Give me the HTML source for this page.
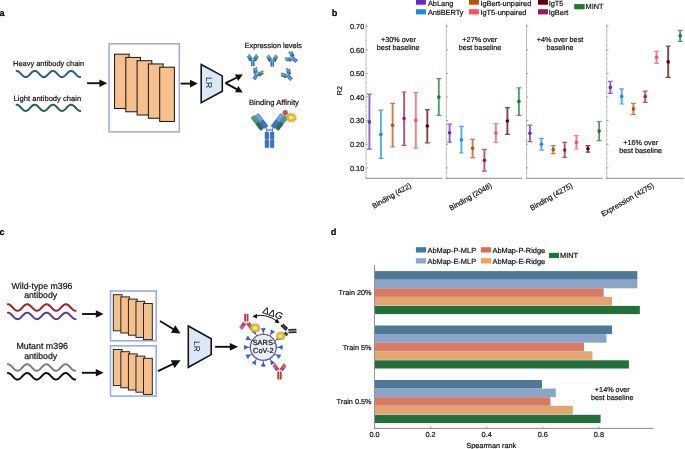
<!DOCTYPE html><html><head><meta charset="utf-8"><style>html,body{margin:0;padding:0;background:#fff;width:685px;height:449px;overflow:hidden}text{font-family:"Liberation Sans",sans-serif;text-rendering:geometricPrecision;stroke:#111;stroke-width:0.2px;paint-order:stroke}</style></head><body><svg width="685" height="449" viewBox="0 0 685 449" style="font-family:'Liberation Sans',sans-serif;display:block;will-change:transform">
<rect width="685" height="449" fill="#fff"/>
<text x="-0.50" y="16.40" font-size="9.2" text-anchor="start" fill="#000" font-weight="bold"  >a</text>
<text x="13.10" y="66.10" font-size="7.43" text-anchor="start" fill="#111" font-weight="normal"  >Heavy antibody chain</text>
<polyline points="16.60,70.90 16.92,70.92 17.24,70.97 17.55,71.07 17.87,71.20 18.19,71.36 18.51,71.55 18.83,71.77 19.14,72.02 19.46,72.30 19.78,72.59 20.10,72.90 20.42,73.23 20.73,73.56 21.05,73.90 21.37,74.24 21.69,74.58 22.01,74.91 22.32,75.23 22.64,75.54 22.96,75.82 23.28,76.09 23.60,76.33 23.91,76.54 24.23,76.72 24.55,76.86 24.87,76.98 25.19,77.05 25.50,77.09 25.82,77.10 26.14,77.06 26.46,76.99 26.78,76.88 27.09,76.74 27.41,76.56 27.73,76.36 28.05,76.12 28.37,75.86 28.68,75.58 29.00,75.28 29.32,74.96 29.64,74.63 29.96,74.29 30.27,73.95 30.59,73.61 30.91,73.28 31.23,72.95 31.55,72.64 31.86,72.34 32.18,72.06 32.50,71.81 32.82,71.58 33.14,71.38 33.45,71.22 33.77,71.08 34.09,70.99 34.41,70.92 34.73,70.90 35.04,70.91 35.36,70.96 35.68,71.05 36.00,71.17 36.32,71.33 36.63,71.52 36.95,71.74 37.27,71.99 37.59,72.26 37.91,72.55 38.22,72.86 38.54,73.18 38.86,73.52 39.18,73.85 39.50,74.19 39.81,74.53 40.13,74.86 40.45,75.19 40.77,75.49 41.09,75.78 41.40,76.05 41.72,76.29 42.04,76.51 42.36,76.69 42.68,76.85 42.99,76.96 43.31,77.05 43.63,77.09 43.95,77.10 44.27,77.07 44.58,77.00 44.90,76.90 45.22,76.76 45.54,76.59 45.86,76.39 46.17,76.16 46.49,75.90 46.81,75.62 47.13,75.32 47.45,75.00 47.76,74.68 48.08,74.34 48.40,74.00 48.72,73.66 49.04,73.32 49.35,73.00 49.67,72.68 49.99,72.38 50.31,72.10 50.63,71.84 50.94,71.61 51.26,71.41 51.58,71.24 51.90,71.10 52.22,71.00 52.53,70.93 52.85,70.90 53.17,70.91 53.49,70.95 53.81,71.04 54.12,71.15 54.44,71.31 54.76,71.49 55.08,71.71 55.40,71.95 55.71,72.22 56.03,72.51 56.35,72.81 56.67,73.14 56.99,73.47 57.30,73.81 57.62,74.15 57.94,74.48 58.26,74.82 58.58,75.14 58.89,75.45 59.21,75.74 59.53,76.01 59.85,76.26 60.17,76.48 60.48,76.67 60.80,76.83 61.12,76.95 61.44,77.04 61.76,77.09 62.07,77.10 62.39,77.08 62.71,77.01 63.03,76.92 63.35,76.78 63.66,76.62 63.98,76.42 64.30,76.19 64.62,75.94 64.94,75.66 65.25,75.36 65.57,75.05 65.89,74.72 66.21,74.39 66.53,74.05 66.84,73.71 67.16,73.37 67.48,73.04 67.80,72.72 68.12,72.42 68.43,72.14 68.75,71.88 69.07,71.64 69.39,71.44 69.71,71.26 70.02,71.12 70.34,71.01 70.66,70.94 70.98,70.90 71.30,70.91 71.61,70.95 71.93,71.02 72.25,71.14 72.57,71.28 72.89,71.46 73.20,71.67 73.52,71.91 73.84,72.18 74.16,72.46 74.48,72.77 74.79,73.09 75.11,73.42 75.43,73.76 75.75,74.10 76.07,74.44 76.38,74.77 76.70,75.10 77.02,75.41 77.34,75.70 77.66,75.98 77.97,76.23 78.29,76.45 78.61,76.64 78.93,76.80 79.25,76.93 79.56,77.03 79.88,77.08 80.20,77.10" fill="none" stroke="#2b5d92" stroke-width="2.0" stroke-linecap="round"/>
<text x="13.60" y="100.50" font-size="7.6" text-anchor="start" fill="#111" font-weight="normal"  >Light antibody chain</text>
<polyline points="16.60,104.70 16.92,104.72 17.24,104.77 17.55,104.87 17.87,105.00 18.19,105.16 18.51,105.35 18.83,105.57 19.14,105.82 19.46,106.10 19.78,106.39 20.10,106.70 20.42,107.03 20.73,107.36 21.05,107.70 21.37,108.04 21.69,108.38 22.01,108.71 22.32,109.03 22.64,109.34 22.96,109.62 23.28,109.89 23.60,110.13 23.91,110.34 24.23,110.52 24.55,110.66 24.87,110.78 25.19,110.85 25.50,110.89 25.82,110.90 26.14,110.86 26.46,110.79 26.78,110.68 27.09,110.54 27.41,110.36 27.73,110.16 28.05,109.92 28.37,109.66 28.68,109.38 29.00,109.08 29.32,108.76 29.64,108.43 29.96,108.09 30.27,107.75 30.59,107.41 30.91,107.08 31.23,106.75 31.55,106.44 31.86,106.14 32.18,105.86 32.50,105.61 32.82,105.38 33.14,105.18 33.45,105.02 33.77,104.88 34.09,104.79 34.41,104.72 34.73,104.70 35.04,104.71 35.36,104.76 35.68,104.85 36.00,104.97 36.32,105.13 36.63,105.32 36.95,105.54 37.27,105.79 37.59,106.06 37.91,106.35 38.22,106.66 38.54,106.98 38.86,107.32 39.18,107.65 39.50,107.99 39.81,108.33 40.13,108.66 40.45,108.99 40.77,109.29 41.09,109.58 41.40,109.85 41.72,110.09 42.04,110.31 42.36,110.49 42.68,110.65 42.99,110.76 43.31,110.85 43.63,110.89 43.95,110.90 44.27,110.87 44.58,110.80 44.90,110.70 45.22,110.56 45.54,110.39 45.86,110.19 46.17,109.96 46.49,109.70 46.81,109.42 47.13,109.12 47.45,108.80 47.76,108.48 48.08,108.14 48.40,107.80 48.72,107.46 49.04,107.12 49.35,106.80 49.67,106.48 49.99,106.18 50.31,105.90 50.63,105.64 50.94,105.41 51.26,105.21 51.58,105.04 51.90,104.90 52.22,104.80 52.53,104.73 52.85,104.70 53.17,104.71 53.49,104.75 53.81,104.84 54.12,104.95 54.44,105.11 54.76,105.29 55.08,105.51 55.40,105.75 55.71,106.02 56.03,106.31 56.35,106.61 56.67,106.94 56.99,107.27 57.30,107.61 57.62,107.95 57.94,108.28 58.26,108.62 58.58,108.94 58.89,109.25 59.21,109.54 59.53,109.81 59.85,110.06 60.17,110.28 60.48,110.47 60.80,110.63 61.12,110.75 61.44,110.84 61.76,110.89 62.07,110.90 62.39,110.88 62.71,110.81 63.03,110.72 63.35,110.58 63.66,110.42 63.98,110.22 64.30,109.99 64.62,109.74 64.94,109.46 65.25,109.16 65.57,108.85 65.89,108.52 66.21,108.19 66.53,107.85 66.84,107.51 67.16,107.17 67.48,106.84 67.80,106.52 68.12,106.22 68.43,105.94 68.75,105.68 69.07,105.44 69.39,105.24 69.71,105.06 70.02,104.92 70.34,104.81 70.66,104.74 70.98,104.70 71.30,104.71 71.61,104.75 71.93,104.82 72.25,104.94 72.57,105.08 72.89,105.26 73.20,105.47 73.52,105.71 73.84,105.98 74.16,106.26 74.48,106.57 74.79,106.89 75.11,107.22 75.43,107.56 75.75,107.90 76.07,108.24 76.38,108.57 76.70,108.90 77.02,109.21 77.34,109.50 77.66,109.78 77.97,110.03 78.29,110.25 78.61,110.44 78.93,110.60 79.25,110.73 79.56,110.83 79.88,110.88 80.20,110.90" fill="none" stroke="#1f5f55" stroke-width="2.0" stroke-linecap="round"/>
<line x1="87.10" y1="83.20" x2="99.90" y2="83.20" stroke="#111" stroke-width="1.9"/>
<polygon points="107.20,83.20 99.40,87.00 99.40,79.40" fill="#111"/>
<rect x="109.1" y="43.8" width="70.2" height="88.1" fill="none" stroke="#98aee0" stroke-width="1.5"/>
<rect x="114.50" y="54.20" width="14.7" height="54.3" fill="#f5bf8e" stroke="#1e1e1e" stroke-width="1.05"/>
<rect x="125.80" y="57.45" width="14.7" height="54.3" fill="#f5bf8e" stroke="#1e1e1e" stroke-width="1.05"/>
<rect x="137.10" y="60.70" width="14.7" height="54.3" fill="#f5bf8e" stroke="#1e1e1e" stroke-width="1.05"/>
<rect x="148.40" y="63.95" width="14.7" height="54.3" fill="#f5bf8e" stroke="#1e1e1e" stroke-width="1.05"/>
<rect x="159.70" y="67.20" width="14.7" height="54.3" fill="#f5bf8e" stroke="#1e1e1e" stroke-width="1.05"/>
<line x1="180.60" y1="83.60" x2="190.50" y2="83.60" stroke="#111" stroke-width="1.9"/>
<polygon points="197.80,83.60 190.00,87.40 190.00,79.80" fill="#111"/>
<polygon points="201.2,64.5 222.3,75.9 222.3,91.3 201.2,102.6" fill="#dbe8f8" stroke="#151515" stroke-width="1.6" stroke-linejoin="miter"/>
<text x="0" y="0" font-size="8.6" text-anchor="middle" fill="#111" text-rendering="geometricPrecision" style="stroke-width:0" transform="translate(209.0,82.6) rotate(90) translate(0,3.0)">LR</text>
<line x1="225.50" y1="83.20" x2="236.98" y2="77.49" stroke="#111" stroke-width="1.9"/>
<polygon points="242.80,74.60 238.13,80.94 234.93,74.49" fill="#111"/>
<line x1="225.50" y1="83.20" x2="237.06" y2="89.35" stroke="#111" stroke-width="1.9"/>
<polygon points="242.80,92.40 234.93,92.29 238.31,85.93" fill="#111"/>
<text x="244.60" y="48.30" font-size="7.36" text-anchor="start" fill="#111" font-weight="normal"  >Expression levels</text>
<text x="249.00" y="104.60" font-size="7.64" text-anchor="start" fill="#111" font-weight="normal"  >Binding Affinity</text>
<g transform="translate(252.80,59.80) rotate(0) scale(1.0)"><rect x="-1.85" y="0" width="1.75" height="6.4" fill="#3b78d4"/><rect x="0.1" y="0" width="1.75" height="6.4" fill="#3b78d4"/><g transform="translate(-0.8,-0.3) rotate(-31)"><rect x="-1.0" y="-6.2" width="2.0" height="3.2" fill="#5a94e4"/><rect x="-1.0" y="-3.1" width="2.0" height="3.1" fill="#3b78d4"/><rect x="-3.0" y="-5.2" width="2.0" height="2.8" fill="#4a8a72"/><rect x="-3.0" y="-2.5" width="2.0" height="3.0" fill="#2c6856"/></g><g transform="translate(0.8,-0.3) rotate(31)"><rect x="-1.0" y="-6.2" width="2.0" height="3.2" fill="#5a94e4"/><rect x="-1.0" y="-3.1" width="2.0" height="3.1" fill="#3b78d4"/><rect x="1.0" y="-5.2" width="2.0" height="2.8" fill="#4a8a72"/><rect x="1.0" y="-2.5" width="2.0" height="3.0" fill="#2c6856"/></g></g>
<g transform="translate(272.20,60.30) rotate(0) scale(1.0)"><rect x="-1.85" y="0" width="1.75" height="6.4" fill="#3b78d4"/><rect x="0.1" y="0" width="1.75" height="6.4" fill="#3b78d4"/><g transform="translate(-0.8,-0.3) rotate(-31)"><rect x="-1.0" y="-6.2" width="2.0" height="3.2" fill="#5a94e4"/><rect x="-1.0" y="-3.1" width="2.0" height="3.1" fill="#3b78d4"/><rect x="-3.0" y="-5.2" width="2.0" height="2.8" fill="#4a8a72"/><rect x="-3.0" y="-2.5" width="2.0" height="3.0" fill="#2c6856"/></g><g transform="translate(0.8,-0.3) rotate(31)"><rect x="-1.0" y="-6.2" width="2.0" height="3.2" fill="#5a94e4"/><rect x="-1.0" y="-3.1" width="2.0" height="3.1" fill="#3b78d4"/><rect x="1.0" y="-5.2" width="2.0" height="2.8" fill="#4a8a72"/><rect x="1.0" y="-2.5" width="2.0" height="3.0" fill="#2c6856"/></g></g>
<g transform="translate(291.60,57.90) rotate(-57) scale(1.0)"><rect x="-1.85" y="0" width="1.75" height="6.4" fill="#3b78d4"/><rect x="0.1" y="0" width="1.75" height="6.4" fill="#3b78d4"/><g transform="translate(-0.8,-0.3) rotate(-31)"><rect x="-1.0" y="-6.2" width="2.0" height="3.2" fill="#5a94e4"/><rect x="-1.0" y="-3.1" width="2.0" height="3.1" fill="#3b78d4"/><rect x="-3.0" y="-5.2" width="2.0" height="2.8" fill="#4a8a72"/><rect x="-3.0" y="-2.5" width="2.0" height="3.0" fill="#2c6856"/></g><g transform="translate(0.8,-0.3) rotate(31)"><rect x="-1.0" y="-6.2" width="2.0" height="3.2" fill="#5a94e4"/><rect x="-1.0" y="-3.1" width="2.0" height="3.1" fill="#3b78d4"/><rect x="1.0" y="-5.2" width="2.0" height="2.8" fill="#4a8a72"/><rect x="1.0" y="-2.5" width="2.0" height="3.0" fill="#2c6856"/></g></g>
<g transform="translate(257.10,73.80) rotate(29) scale(1.0)"><rect x="-1.85" y="0" width="1.75" height="6.4" fill="#3b78d4"/><rect x="0.1" y="0" width="1.75" height="6.4" fill="#3b78d4"/><g transform="translate(-0.8,-0.3) rotate(-31)"><rect x="-1.0" y="-6.2" width="2.0" height="3.2" fill="#5a94e4"/><rect x="-1.0" y="-3.1" width="2.0" height="3.1" fill="#3b78d4"/><rect x="-3.0" y="-5.2" width="2.0" height="2.8" fill="#4a8a72"/><rect x="-3.0" y="-2.5" width="2.0" height="3.0" fill="#2c6856"/></g><g transform="translate(0.8,-0.3) rotate(31)"><rect x="-1.0" y="-6.2" width="2.0" height="3.2" fill="#5a94e4"/><rect x="-1.0" y="-3.1" width="2.0" height="3.1" fill="#3b78d4"/><rect x="1.0" y="-5.2" width="2.0" height="2.8" fill="#4a8a72"/><rect x="1.0" y="-2.5" width="2.0" height="3.0" fill="#2c6856"/></g></g>
<g transform="translate(287.50,75.00) rotate(-40) scale(1.0)"><rect x="-1.85" y="0" width="1.75" height="6.4" fill="#3b78d4"/><rect x="0.1" y="0" width="1.75" height="6.4" fill="#3b78d4"/><g transform="translate(-0.8,-0.3) rotate(-31)"><rect x="-1.0" y="-6.2" width="2.0" height="3.2" fill="#5a94e4"/><rect x="-1.0" y="-3.1" width="2.0" height="3.1" fill="#3b78d4"/><rect x="-3.0" y="-5.2" width="2.0" height="2.8" fill="#4a8a72"/><rect x="-3.0" y="-2.5" width="2.0" height="3.0" fill="#2c6856"/></g><g transform="translate(0.8,-0.3) rotate(31)"><rect x="-1.0" y="-6.2" width="2.0" height="3.2" fill="#5a94e4"/><rect x="-1.0" y="-3.1" width="2.0" height="3.1" fill="#3b78d4"/><rect x="1.0" y="-5.2" width="2.0" height="2.8" fill="#4a8a72"/><rect x="1.0" y="-2.5" width="2.0" height="3.0" fill="#2c6856"/></g></g>
<g><rect x="265" y="132" width="3.8" height="7.6" rx="0.8" fill="#3a74c8" stroke="#2a5aa8" stroke-width="0.4"/><rect x="265" y="140" width="3.8" height="7.8" rx="0.8" fill="#3a74c8" stroke="#2a5aa8" stroke-width="0.4"/><rect x="270.2" y="132" width="3.8" height="7.6" rx="0.8" fill="#3a74c8" stroke="#2a5aa8" stroke-width="0.4"/><rect x="270.2" y="140" width="3.8" height="7.8" rx="0.8" fill="#3a74c8" stroke="#2a5aa8" stroke-width="0.4"/><path d="M266.5,132 L266.5,128 M272.5,132 L272.5,128 M266.5,129.3 L272.5,129.3 M266.5,130.6 L272.5,130.6" stroke="#2a5aa8" stroke-width="0.6" fill="none"/><g transform="translate(266.8,127.5) rotate(-37)"><rect x="-2.4" y="-16.5" width="4.3" height="8.2" rx="0.8" fill="#6aa3ea" stroke="#3a70c0" stroke-width="0.4"/><rect x="-2.4" y="-8.3" width="4.3" height="8" rx="0.8" fill="#3a74c8" stroke="#2a5aa8" stroke-width="0.4"/><rect x="-6.9" y="-17.3" width="4.3" height="8.0" rx="0.8" fill="#4f9a7e" stroke="#2e6a55" stroke-width="0.4"/><rect x="-6.9" y="-9.3" width="4.3" height="8.0" rx="0.8" fill="#2f6a55" stroke="#24503f" stroke-width="0.4"/></g><g transform="translate(272.2,127.5) rotate(37)"><rect x="-1.9" y="-16.5" width="4.3" height="8.2" rx="0.8" fill="#6aa3ea" stroke="#3a70c0" stroke-width="0.4"/><rect x="-1.9" y="-8.3" width="4.3" height="8" rx="0.8" fill="#3a74c8" stroke="#2a5aa8" stroke-width="0.4"/><rect x="2.6" y="-17.3" width="4.3" height="8.0" rx="0.8" fill="#4f9a7e" stroke="#2e6a55" stroke-width="0.4"/><rect x="2.6" y="-9.3" width="4.3" height="8.0" rx="0.8" fill="#2f6a55" stroke="#24503f" stroke-width="0.4"/></g></g>
<polygon points="296.75,117.60 295.13,118.45 296.53,120.06 294.17,119.92 294.39,121.66 292.64,120.95 291.84,122.22 290.72,121.10 289.17,122.31 288.79,120.67 287.31,120.63 287.80,119.17 286.16,118.69 286.95,117.60 285.57,116.38 287.98,116.11 286.65,114.05 288.72,114.43 289.16,112.87 290.71,114.02 291.83,113.01 292.48,114.63 294.40,113.52 293.93,115.47 295.88,115.44 294.88,116.80" fill="#dfbd38" stroke="#c9a030" stroke-width="0.6" stroke-linejoin="round"/>
<ellipse cx="291.20" cy="117.60" rx="2.48" ry="1.68" fill="#f7f07a"/>
<circle cx="285.2" cy="112.6" r="2.7" fill="#d0504e"/>
<text x="331.80" y="16.40" font-size="9.2" text-anchor="start" fill="#000" font-weight="bold"  >b</text>
<rect x="416" y="-0.3" width="9.9" height="5.0" fill="#6a28c8"/>
<text x="427.90" y="5.60" font-size="7.4" text-anchor="start" fill="#111" font-weight="normal"  >AbLang</text>
<rect x="416" y="9.2" width="9.9" height="5.2" fill="#1a8ce6"/>
<text x="427.90" y="14.50" font-size="7.4" text-anchor="start" fill="#111" font-weight="normal"  >AntiBERTy</text>
<rect x="469" y="-0.3" width="9.9" height="5.0" fill="#b85208"/>
<text x="480.40" y="5.60" font-size="7.4" text-anchor="start" fill="#111" font-weight="normal"  >IgBert-unpaired</text>
<rect x="469" y="9.2" width="9.9" height="5.2" fill="#ff4d5a"/>
<text x="480.40" y="14.50" font-size="7.4" text-anchor="start" fill="#111" font-weight="normal"  >IgT5-unpaired</text>
<rect x="538" y="-0.3" width="9.9" height="5.0" fill="#5c0008"/>
<text x="548.70" y="5.60" font-size="7.4" text-anchor="start" fill="#111" font-weight="normal"  >IgT5</text>
<rect x="538" y="9.2" width="9.9" height="5.2" fill="#a0175a"/>
<text x="548.70" y="14.50" font-size="7.4" text-anchor="start" fill="#111" font-weight="normal"  >IgBert</text>
<rect x="574.2" y="4.1" width="10.5" height="5.2" fill="#1a7a32"/>
<text x="585.50" y="9.40" font-size="7.4" text-anchor="start" fill="#111" font-weight="normal"  >MINT</text>
<text x="364.20" y="170.60" font-size="7.3" text-anchor="end" fill="#111" font-weight="normal"  >0.10</text>
<text x="364.20" y="146.98" font-size="7.3" text-anchor="end" fill="#111" font-weight="normal"  >0.20</text>
<text x="364.20" y="123.36" font-size="7.3" text-anchor="end" fill="#111" font-weight="normal"  >0.30</text>
<text x="364.20" y="99.74" font-size="7.3" text-anchor="end" fill="#111" font-weight="normal"  >0.40</text>
<text x="364.20" y="76.12" font-size="7.3" text-anchor="end" fill="#111" font-weight="normal"  >0.50</text>
<text x="364.20" y="52.50" font-size="7.3" text-anchor="end" fill="#111" font-weight="normal"  >0.60</text>
<text x="364.20" y="28.88" font-size="7.3" text-anchor="end" fill="#111" font-weight="normal"  >0.70</text>
<text x="0" y="0" font-size="7.1" text-anchor="middle" fill="#111" transform="translate(342.0,90.6) rotate(-90)">R2</text>
<line x1="366.0" y1="23.5" x2="366.0" y2="178.3" stroke="#b0b0b0" stroke-width="0.75"/>
<line x1="365.55" y1="178.3" x2="442.4" y2="178.3" stroke="#8a8a8a" stroke-width="1.0"/>
<line x1="365.7" y1="177.35" x2="366.90" y2="177.35" stroke="#aaa" stroke-width="0.6"/>
<line x1="365.7" y1="172.62" x2="366.90" y2="172.62" stroke="#aaa" stroke-width="0.6"/>
<line x1="365.7" y1="167.90" x2="367.80" y2="167.90" stroke="#888" stroke-width="0.8"/>
<line x1="365.7" y1="163.18" x2="366.90" y2="163.18" stroke="#aaa" stroke-width="0.6"/>
<line x1="365.7" y1="158.45" x2="366.90" y2="158.45" stroke="#aaa" stroke-width="0.6"/>
<line x1="365.7" y1="153.73" x2="366.90" y2="153.73" stroke="#aaa" stroke-width="0.6"/>
<line x1="365.7" y1="149.00" x2="366.90" y2="149.00" stroke="#aaa" stroke-width="0.6"/>
<line x1="365.7" y1="144.28" x2="367.80" y2="144.28" stroke="#888" stroke-width="0.8"/>
<line x1="365.7" y1="139.56" x2="366.90" y2="139.56" stroke="#aaa" stroke-width="0.6"/>
<line x1="365.7" y1="134.83" x2="366.90" y2="134.83" stroke="#aaa" stroke-width="0.6"/>
<line x1="365.7" y1="130.11" x2="366.90" y2="130.11" stroke="#aaa" stroke-width="0.6"/>
<line x1="365.7" y1="125.38" x2="366.90" y2="125.38" stroke="#aaa" stroke-width="0.6"/>
<line x1="365.7" y1="120.66" x2="367.80" y2="120.66" stroke="#888" stroke-width="0.8"/>
<line x1="365.7" y1="115.94" x2="366.90" y2="115.94" stroke="#aaa" stroke-width="0.6"/>
<line x1="365.7" y1="111.21" x2="366.90" y2="111.21" stroke="#aaa" stroke-width="0.6"/>
<line x1="365.7" y1="106.49" x2="366.90" y2="106.49" stroke="#aaa" stroke-width="0.6"/>
<line x1="365.7" y1="101.76" x2="366.90" y2="101.76" stroke="#aaa" stroke-width="0.6"/>
<line x1="365.7" y1="97.04" x2="367.80" y2="97.04" stroke="#888" stroke-width="0.8"/>
<line x1="365.7" y1="92.32" x2="366.90" y2="92.32" stroke="#aaa" stroke-width="0.6"/>
<line x1="365.7" y1="87.59" x2="366.90" y2="87.59" stroke="#aaa" stroke-width="0.6"/>
<line x1="365.7" y1="82.87" x2="366.90" y2="82.87" stroke="#aaa" stroke-width="0.6"/>
<line x1="365.7" y1="78.14" x2="366.90" y2="78.14" stroke="#aaa" stroke-width="0.6"/>
<line x1="365.7" y1="73.42" x2="367.80" y2="73.42" stroke="#888" stroke-width="0.8"/>
<line x1="365.7" y1="68.70" x2="366.90" y2="68.70" stroke="#aaa" stroke-width="0.6"/>
<line x1="365.7" y1="63.97" x2="366.90" y2="63.97" stroke="#aaa" stroke-width="0.6"/>
<line x1="365.7" y1="59.25" x2="366.90" y2="59.25" stroke="#aaa" stroke-width="0.6"/>
<line x1="365.7" y1="54.52" x2="366.90" y2="54.52" stroke="#aaa" stroke-width="0.6"/>
<line x1="365.7" y1="49.80" x2="367.80" y2="49.80" stroke="#888" stroke-width="0.8"/>
<line x1="365.7" y1="45.08" x2="366.90" y2="45.08" stroke="#aaa" stroke-width="0.6"/>
<line x1="365.7" y1="40.35" x2="366.90" y2="40.35" stroke="#aaa" stroke-width="0.6"/>
<line x1="365.7" y1="35.63" x2="366.90" y2="35.63" stroke="#aaa" stroke-width="0.6"/>
<line x1="365.7" y1="30.90" x2="366.90" y2="30.90" stroke="#aaa" stroke-width="0.6"/>
<line x1="365.7" y1="26.18" x2="367.80" y2="26.18" stroke="#888" stroke-width="0.8"/>
<line x1="446.3" y1="23.5" x2="446.3" y2="178.3" stroke="#b0b0b0" stroke-width="0.75"/>
<line x1="445.85" y1="178.3" x2="522.4" y2="178.3" stroke="#8a8a8a" stroke-width="1.0"/>
<line x1="446.0" y1="177.35" x2="447.20" y2="177.35" stroke="#aaa" stroke-width="0.6"/>
<line x1="446.0" y1="172.62" x2="447.20" y2="172.62" stroke="#aaa" stroke-width="0.6"/>
<line x1="446.0" y1="167.90" x2="448.10" y2="167.90" stroke="#888" stroke-width="0.8"/>
<line x1="446.0" y1="163.18" x2="447.20" y2="163.18" stroke="#aaa" stroke-width="0.6"/>
<line x1="446.0" y1="158.45" x2="447.20" y2="158.45" stroke="#aaa" stroke-width="0.6"/>
<line x1="446.0" y1="153.73" x2="447.20" y2="153.73" stroke="#aaa" stroke-width="0.6"/>
<line x1="446.0" y1="149.00" x2="447.20" y2="149.00" stroke="#aaa" stroke-width="0.6"/>
<line x1="446.0" y1="144.28" x2="448.10" y2="144.28" stroke="#888" stroke-width="0.8"/>
<line x1="446.0" y1="139.56" x2="447.20" y2="139.56" stroke="#aaa" stroke-width="0.6"/>
<line x1="446.0" y1="134.83" x2="447.20" y2="134.83" stroke="#aaa" stroke-width="0.6"/>
<line x1="446.0" y1="130.11" x2="447.20" y2="130.11" stroke="#aaa" stroke-width="0.6"/>
<line x1="446.0" y1="125.38" x2="447.20" y2="125.38" stroke="#aaa" stroke-width="0.6"/>
<line x1="446.0" y1="120.66" x2="448.10" y2="120.66" stroke="#888" stroke-width="0.8"/>
<line x1="446.0" y1="115.94" x2="447.20" y2="115.94" stroke="#aaa" stroke-width="0.6"/>
<line x1="446.0" y1="111.21" x2="447.20" y2="111.21" stroke="#aaa" stroke-width="0.6"/>
<line x1="446.0" y1="106.49" x2="447.20" y2="106.49" stroke="#aaa" stroke-width="0.6"/>
<line x1="446.0" y1="101.76" x2="447.20" y2="101.76" stroke="#aaa" stroke-width="0.6"/>
<line x1="446.0" y1="97.04" x2="448.10" y2="97.04" stroke="#888" stroke-width="0.8"/>
<line x1="446.0" y1="92.32" x2="447.20" y2="92.32" stroke="#aaa" stroke-width="0.6"/>
<line x1="446.0" y1="87.59" x2="447.20" y2="87.59" stroke="#aaa" stroke-width="0.6"/>
<line x1="446.0" y1="82.87" x2="447.20" y2="82.87" stroke="#aaa" stroke-width="0.6"/>
<line x1="446.0" y1="78.14" x2="447.20" y2="78.14" stroke="#aaa" stroke-width="0.6"/>
<line x1="446.0" y1="73.42" x2="448.10" y2="73.42" stroke="#888" stroke-width="0.8"/>
<line x1="446.0" y1="68.70" x2="447.20" y2="68.70" stroke="#aaa" stroke-width="0.6"/>
<line x1="446.0" y1="63.97" x2="447.20" y2="63.97" stroke="#aaa" stroke-width="0.6"/>
<line x1="446.0" y1="59.25" x2="447.20" y2="59.25" stroke="#aaa" stroke-width="0.6"/>
<line x1="446.0" y1="54.52" x2="447.20" y2="54.52" stroke="#aaa" stroke-width="0.6"/>
<line x1="446.0" y1="49.80" x2="448.10" y2="49.80" stroke="#888" stroke-width="0.8"/>
<line x1="446.0" y1="45.08" x2="447.20" y2="45.08" stroke="#aaa" stroke-width="0.6"/>
<line x1="446.0" y1="40.35" x2="447.20" y2="40.35" stroke="#aaa" stroke-width="0.6"/>
<line x1="446.0" y1="35.63" x2="447.20" y2="35.63" stroke="#aaa" stroke-width="0.6"/>
<line x1="446.0" y1="30.90" x2="447.20" y2="30.90" stroke="#aaa" stroke-width="0.6"/>
<line x1="446.0" y1="26.18" x2="448.10" y2="26.18" stroke="#888" stroke-width="0.8"/>
<line x1="526.5" y1="23.5" x2="526.5" y2="178.3" stroke="#b0b0b0" stroke-width="0.75"/>
<line x1="526.05" y1="178.3" x2="602.7" y2="178.3" stroke="#8a8a8a" stroke-width="1.0"/>
<line x1="526.2" y1="177.35" x2="527.40" y2="177.35" stroke="#aaa" stroke-width="0.6"/>
<line x1="526.2" y1="172.62" x2="527.40" y2="172.62" stroke="#aaa" stroke-width="0.6"/>
<line x1="526.2" y1="167.90" x2="528.30" y2="167.90" stroke="#888" stroke-width="0.8"/>
<line x1="526.2" y1="163.18" x2="527.40" y2="163.18" stroke="#aaa" stroke-width="0.6"/>
<line x1="526.2" y1="158.45" x2="527.40" y2="158.45" stroke="#aaa" stroke-width="0.6"/>
<line x1="526.2" y1="153.73" x2="527.40" y2="153.73" stroke="#aaa" stroke-width="0.6"/>
<line x1="526.2" y1="149.00" x2="527.40" y2="149.00" stroke="#aaa" stroke-width="0.6"/>
<line x1="526.2" y1="144.28" x2="528.30" y2="144.28" stroke="#888" stroke-width="0.8"/>
<line x1="526.2" y1="139.56" x2="527.40" y2="139.56" stroke="#aaa" stroke-width="0.6"/>
<line x1="526.2" y1="134.83" x2="527.40" y2="134.83" stroke="#aaa" stroke-width="0.6"/>
<line x1="526.2" y1="130.11" x2="527.40" y2="130.11" stroke="#aaa" stroke-width="0.6"/>
<line x1="526.2" y1="125.38" x2="527.40" y2="125.38" stroke="#aaa" stroke-width="0.6"/>
<line x1="526.2" y1="120.66" x2="528.30" y2="120.66" stroke="#888" stroke-width="0.8"/>
<line x1="526.2" y1="115.94" x2="527.40" y2="115.94" stroke="#aaa" stroke-width="0.6"/>
<line x1="526.2" y1="111.21" x2="527.40" y2="111.21" stroke="#aaa" stroke-width="0.6"/>
<line x1="526.2" y1="106.49" x2="527.40" y2="106.49" stroke="#aaa" stroke-width="0.6"/>
<line x1="526.2" y1="101.76" x2="527.40" y2="101.76" stroke="#aaa" stroke-width="0.6"/>
<line x1="526.2" y1="97.04" x2="528.30" y2="97.04" stroke="#888" stroke-width="0.8"/>
<line x1="526.2" y1="92.32" x2="527.40" y2="92.32" stroke="#aaa" stroke-width="0.6"/>
<line x1="526.2" y1="87.59" x2="527.40" y2="87.59" stroke="#aaa" stroke-width="0.6"/>
<line x1="526.2" y1="82.87" x2="527.40" y2="82.87" stroke="#aaa" stroke-width="0.6"/>
<line x1="526.2" y1="78.14" x2="527.40" y2="78.14" stroke="#aaa" stroke-width="0.6"/>
<line x1="526.2" y1="73.42" x2="528.30" y2="73.42" stroke="#888" stroke-width="0.8"/>
<line x1="526.2" y1="68.70" x2="527.40" y2="68.70" stroke="#aaa" stroke-width="0.6"/>
<line x1="526.2" y1="63.97" x2="527.40" y2="63.97" stroke="#aaa" stroke-width="0.6"/>
<line x1="526.2" y1="59.25" x2="527.40" y2="59.25" stroke="#aaa" stroke-width="0.6"/>
<line x1="526.2" y1="54.52" x2="527.40" y2="54.52" stroke="#aaa" stroke-width="0.6"/>
<line x1="526.2" y1="49.80" x2="528.30" y2="49.80" stroke="#888" stroke-width="0.8"/>
<line x1="526.2" y1="45.08" x2="527.40" y2="45.08" stroke="#aaa" stroke-width="0.6"/>
<line x1="526.2" y1="40.35" x2="527.40" y2="40.35" stroke="#aaa" stroke-width="0.6"/>
<line x1="526.2" y1="35.63" x2="527.40" y2="35.63" stroke="#aaa" stroke-width="0.6"/>
<line x1="526.2" y1="30.90" x2="527.40" y2="30.90" stroke="#aaa" stroke-width="0.6"/>
<line x1="526.2" y1="26.18" x2="528.30" y2="26.18" stroke="#888" stroke-width="0.8"/>
<line x1="606.7" y1="23.5" x2="606.7" y2="178.3" stroke="#b0b0b0" stroke-width="0.75"/>
<line x1="606.25" y1="178.3" x2="683.7" y2="178.3" stroke="#8a8a8a" stroke-width="1.0"/>
<line x1="606.4000000000001" y1="177.35" x2="607.60" y2="177.35" stroke="#aaa" stroke-width="0.6"/>
<line x1="606.4000000000001" y1="172.62" x2="607.60" y2="172.62" stroke="#aaa" stroke-width="0.6"/>
<line x1="606.4000000000001" y1="167.90" x2="608.50" y2="167.90" stroke="#888" stroke-width="0.8"/>
<line x1="606.4000000000001" y1="163.18" x2="607.60" y2="163.18" stroke="#aaa" stroke-width="0.6"/>
<line x1="606.4000000000001" y1="158.45" x2="607.60" y2="158.45" stroke="#aaa" stroke-width="0.6"/>
<line x1="606.4000000000001" y1="153.73" x2="607.60" y2="153.73" stroke="#aaa" stroke-width="0.6"/>
<line x1="606.4000000000001" y1="149.00" x2="607.60" y2="149.00" stroke="#aaa" stroke-width="0.6"/>
<line x1="606.4000000000001" y1="144.28" x2="608.50" y2="144.28" stroke="#888" stroke-width="0.8"/>
<line x1="606.4000000000001" y1="139.56" x2="607.60" y2="139.56" stroke="#aaa" stroke-width="0.6"/>
<line x1="606.4000000000001" y1="134.83" x2="607.60" y2="134.83" stroke="#aaa" stroke-width="0.6"/>
<line x1="606.4000000000001" y1="130.11" x2="607.60" y2="130.11" stroke="#aaa" stroke-width="0.6"/>
<line x1="606.4000000000001" y1="125.38" x2="607.60" y2="125.38" stroke="#aaa" stroke-width="0.6"/>
<line x1="606.4000000000001" y1="120.66" x2="608.50" y2="120.66" stroke="#888" stroke-width="0.8"/>
<line x1="606.4000000000001" y1="115.94" x2="607.60" y2="115.94" stroke="#aaa" stroke-width="0.6"/>
<line x1="606.4000000000001" y1="111.21" x2="607.60" y2="111.21" stroke="#aaa" stroke-width="0.6"/>
<line x1="606.4000000000001" y1="106.49" x2="607.60" y2="106.49" stroke="#aaa" stroke-width="0.6"/>
<line x1="606.4000000000001" y1="101.76" x2="607.60" y2="101.76" stroke="#aaa" stroke-width="0.6"/>
<line x1="606.4000000000001" y1="97.04" x2="608.50" y2="97.04" stroke="#888" stroke-width="0.8"/>
<line x1="606.4000000000001" y1="92.32" x2="607.60" y2="92.32" stroke="#aaa" stroke-width="0.6"/>
<line x1="606.4000000000001" y1="87.59" x2="607.60" y2="87.59" stroke="#aaa" stroke-width="0.6"/>
<line x1="606.4000000000001" y1="82.87" x2="607.60" y2="82.87" stroke="#aaa" stroke-width="0.6"/>
<line x1="606.4000000000001" y1="78.14" x2="607.60" y2="78.14" stroke="#aaa" stroke-width="0.6"/>
<line x1="606.4000000000001" y1="73.42" x2="608.50" y2="73.42" stroke="#888" stroke-width="0.8"/>
<line x1="606.4000000000001" y1="68.70" x2="607.60" y2="68.70" stroke="#aaa" stroke-width="0.6"/>
<line x1="606.4000000000001" y1="63.97" x2="607.60" y2="63.97" stroke="#aaa" stroke-width="0.6"/>
<line x1="606.4000000000001" y1="59.25" x2="607.60" y2="59.25" stroke="#aaa" stroke-width="0.6"/>
<line x1="606.4000000000001" y1="54.52" x2="607.60" y2="54.52" stroke="#aaa" stroke-width="0.6"/>
<line x1="606.4000000000001" y1="49.80" x2="608.50" y2="49.80" stroke="#888" stroke-width="0.8"/>
<line x1="606.4000000000001" y1="45.08" x2="607.60" y2="45.08" stroke="#aaa" stroke-width="0.6"/>
<line x1="606.4000000000001" y1="40.35" x2="607.60" y2="40.35" stroke="#aaa" stroke-width="0.6"/>
<line x1="606.4000000000001" y1="35.63" x2="607.60" y2="35.63" stroke="#aaa" stroke-width="0.6"/>
<line x1="606.4000000000001" y1="30.90" x2="607.60" y2="30.90" stroke="#aaa" stroke-width="0.6"/>
<line x1="606.4000000000001" y1="26.18" x2="608.50" y2="26.18" stroke="#888" stroke-width="0.8"/>
<g opacity="0.74" stroke="#6a28c8" fill="none"><path d="M366.95,94.2 H371.84999999999997 M366.95,149.2 H371.84999999999997" stroke-width="1.2"/><path d="M369.4,94.2 V149.2" stroke-width="1.9"/></g>
<circle cx="369.4" cy="121.9" r="1.8" fill="#6a28c8"/>
<g opacity="0.74" stroke="#1a8ce6" fill="none"><path d="M378.45,110.2 H383.34999999999997 M378.45,158.3 H383.34999999999997" stroke-width="1.2"/><path d="M380.9,110.2 V158.3" stroke-width="1.9"/></g>
<circle cx="380.9" cy="134.5" r="1.8" fill="#1a8ce6"/>
<g opacity="0.74" stroke="#b85208" fill="none"><path d="M390.15000000000003,103.3 H395.05 M390.15000000000003,147 H395.05" stroke-width="1.2"/><path d="M392.6,103.3 V147" stroke-width="1.9"/></g>
<circle cx="392.6" cy="125.2" r="1.8" fill="#b85208"/>
<g opacity="0.74" stroke="#a0175a" fill="none"><path d="M401.65000000000003,92 H406.55 M401.65000000000003,145.4 H406.55" stroke-width="1.2"/><path d="M404.1,92 V145.4" stroke-width="1.9"/></g>
<circle cx="404.1" cy="118.5" r="1.8" fill="#a0175a"/>
<g opacity="0.74" stroke="#ff4d5a" fill="none"><path d="M413.35,92.6 H418.25 M413.35,148.1 H418.25" stroke-width="1.2"/><path d="M415.8,92.6 V148.1" stroke-width="1.9"/></g>
<circle cx="415.8" cy="120.3" r="1.8" fill="#ff4d5a"/>
<g opacity="0.74" stroke="#5c0008" fill="none"><path d="M424.85,109.7 H429.75 M424.85,142.8 H429.75" stroke-width="1.2"/><path d="M427.3,109.7 V142.8" stroke-width="1.9"/></g>
<circle cx="427.3" cy="126" r="1.8" fill="#5c0008"/>
<g opacity="0.74" stroke="#1a7a32" fill="none"><path d="M436.35,78.7 H441.25 M436.35,115.3 H441.25" stroke-width="1.2"/><path d="M438.8,78.7 V115.3" stroke-width="1.9"/></g>
<circle cx="438.8" cy="97.1" r="1.8" fill="#1a7a32"/>
<g opacity="0.74" stroke="#6a28c8" fill="none"><path d="M447.15000000000003,124.2 H452.05 M447.15000000000003,142.1 H452.05" stroke-width="1.2"/><path d="M449.6,124.2 V142.1" stroke-width="1.9"/></g>
<circle cx="449.6" cy="132.7" r="1.8" fill="#6a28c8"/>
<g opacity="0.74" stroke="#1a8ce6" fill="none"><path d="M458.95,126.3 H463.84999999999997 M458.95,153 H463.84999999999997" stroke-width="1.2"/><path d="M461.4,126.3 V153" stroke-width="1.9"/></g>
<circle cx="461.4" cy="139.7" r="1.8" fill="#1a8ce6"/>
<g opacity="0.74" stroke="#b85208" fill="none"><path d="M470.15000000000003,139.4 H475.05 M470.15000000000003,157.6 H475.05" stroke-width="1.2"/><path d="M472.6,139.4 V157.6" stroke-width="1.9"/></g>
<circle cx="472.6" cy="148.2" r="1.8" fill="#b85208"/>
<g opacity="0.74" stroke="#a0175a" fill="none"><path d="M481.95,149.3 H486.84999999999997 M481.95,171.2 H486.84999999999997" stroke-width="1.2"/><path d="M484.4,149.3 V171.2" stroke-width="1.9"/></g>
<circle cx="484.4" cy="160.3" r="1.8" fill="#a0175a"/>
<g opacity="0.74" stroke="#ff4d5a" fill="none"><path d="M493.45,123.6 H498.34999999999997 M493.45,142.4 H498.34999999999997" stroke-width="1.2"/><path d="M495.9,123.6 V142.4" stroke-width="1.9"/></g>
<circle cx="495.9" cy="133" r="1.8" fill="#ff4d5a"/>
<g opacity="0.74" stroke="#5c0008" fill="none"><path d="M504.95,107.6 H509.84999999999997 M504.95,134.3 H509.84999999999997" stroke-width="1.2"/><path d="M507.4,107.6 V134.3" stroke-width="1.9"/></g>
<circle cx="507.4" cy="121" r="1.8" fill="#5c0008"/>
<g opacity="0.74" stroke="#1a7a32" fill="none"><path d="M516.4499999999999,87.8 H521.35 M516.4499999999999,115.3 H521.35" stroke-width="1.2"/><path d="M518.9,87.8 V115.3" stroke-width="1.9"/></g>
<circle cx="518.9" cy="101.4" r="1.8" fill="#1a7a32"/>
<g opacity="0.74" stroke="#6a28c8" fill="none"><path d="M527.4499999999999,125.2 H532.35 M527.4499999999999,141.6 H532.35" stroke-width="1.2"/><path d="M529.9,125.2 V141.6" stroke-width="1.9"/></g>
<circle cx="529.9" cy="133.3" r="1.8" fill="#6a28c8"/>
<g opacity="0.74" stroke="#1a8ce6" fill="none"><path d="M538.9499999999999,138.3 H543.85 M538.9499999999999,150.1 H543.85" stroke-width="1.2"/><path d="M541.4,138.3 V150.1" stroke-width="1.9"/></g>
<circle cx="541.4" cy="144.2" r="1.8" fill="#1a8ce6"/>
<g opacity="0.74" stroke="#b85208" fill="none"><path d="M550.75,145.6 H555.6500000000001 M550.75,153.6 H555.6500000000001" stroke-width="1.2"/><path d="M553.2,145.6 V153.6" stroke-width="1.9"/></g>
<circle cx="553.2" cy="149.6" r="1.8" fill="#b85208"/>
<g opacity="0.74" stroke="#a0175a" fill="none"><path d="M562.25,142.4 H567.1500000000001 M562.25,157.3 H567.1500000000001" stroke-width="1.2"/><path d="M564.7,142.4 V157.3" stroke-width="1.9"/></g>
<circle cx="564.7" cy="150.1" r="1.8" fill="#a0175a"/>
<g opacity="0.74" stroke="#ff4d5a" fill="none"><path d="M573.9499999999999,135.7 H578.85 M573.9499999999999,149 H578.85" stroke-width="1.2"/><path d="M576.4,135.7 V149" stroke-width="1.9"/></g>
<circle cx="576.4" cy="142.4" r="1.8" fill="#ff4d5a"/>
<g opacity="0.74" stroke="#5c0008" fill="none"><path d="M585.4499999999999,145.6 H590.35 M585.4499999999999,152.2 H590.35" stroke-width="1.2"/><path d="M587.9,145.6 V152.2" stroke-width="1.9"/></g>
<circle cx="587.9" cy="148.8" r="1.8" fill="#5c0008"/>
<g opacity="0.74" stroke="#1a7a32" fill="none"><path d="M596.65,121.5 H601.5500000000001 M596.65,140.7 H601.5500000000001" stroke-width="1.2"/><path d="M599.1,121.5 V140.7" stroke-width="1.9"/></g>
<circle cx="599.1" cy="131.1" r="1.8" fill="#1a7a32"/>
<g opacity="0.74" stroke="#6a28c8" fill="none"><path d="M607.8499999999999,81.3 H612.75 M607.8499999999999,93.4 H612.75" stroke-width="1.2"/><path d="M610.3,81.3 V93.4" stroke-width="1.9"/></g>
<circle cx="610.3" cy="87.4" r="1.8" fill="#6a28c8"/>
<g opacity="0.74" stroke="#1a8ce6" fill="none"><path d="M619.25,88.9 H624.1500000000001 M619.25,104 H624.1500000000001" stroke-width="1.2"/><path d="M621.7,88.9 V104" stroke-width="1.9"/></g>
<circle cx="621.7" cy="96.4" r="1.8" fill="#1a8ce6"/>
<g opacity="0.74" stroke="#b85208" fill="none"><path d="M630.9499999999999,103.4 H635.85 M630.9499999999999,114.5 H635.85" stroke-width="1.2"/><path d="M633.4,103.4 V114.5" stroke-width="1.9"/></g>
<circle cx="633.4" cy="108.9" r="1.8" fill="#b85208"/>
<g opacity="0.74" stroke="#a0175a" fill="none"><path d="M642.75,91.2 H647.6500000000001 M642.75,102.3 H647.6500000000001" stroke-width="1.2"/><path d="M645.2,91.2 V102.3" stroke-width="1.9"/></g>
<circle cx="645.2" cy="96.5" r="1.8" fill="#a0175a"/>
<g opacity="0.74" stroke="#ff4d5a" fill="none"><path d="M654.05,51.4 H658.95 M654.05,63.3 H658.95" stroke-width="1.2"/><path d="M656.5,51.4 V63.3" stroke-width="1.9"/></g>
<circle cx="656.5" cy="57.2" r="1.8" fill="#ff4d5a"/>
<g opacity="0.74" stroke="#5c0008" fill="none"><path d="M665.75,46.2 H670.6500000000001 M665.75,77.4 H670.6500000000001" stroke-width="1.2"/><path d="M668.2,46.2 V77.4" stroke-width="1.9"/></g>
<circle cx="668.2" cy="61.9" r="1.8" fill="#5c0008"/>
<g opacity="0.74" stroke="#1a7a32" fill="none"><path d="M677.75,30.3 H682.6500000000001 M677.75,41.4 H682.6500000000001" stroke-width="1.2"/><path d="M680.2,30.3 V41.4" stroke-width="1.9"/></g>
<circle cx="680.2" cy="35.7" r="1.8" fill="#1a7a32"/>
<text x="398.50" y="42.40" font-size="7.25" text-anchor="middle" fill="#111" font-weight="normal"  >+30% over</text>
<text x="479.80" y="42.40" font-size="7.25" text-anchor="middle" fill="#111" font-weight="normal"  >+27% over</text>
<text x="560.00" y="42.40" font-size="7.25" text-anchor="middle" fill="#111" font-weight="normal"  >+4% over best</text>
<text x="640.70" y="144.50" font-size="7.25" text-anchor="middle" fill="#111" font-weight="normal"  >+16% over</text>
<text x="398.20" y="50.40" font-size="7.25" text-anchor="middle" fill="#111" font-weight="normal"  >best baseline</text>
<text x="480.00" y="50.40" font-size="7.25" text-anchor="middle" fill="#111" font-weight="normal"  >best baseline</text>
<text x="560.00" y="50.40" font-size="7.25" text-anchor="middle" fill="#111" font-weight="normal"  >baseline</text>
<text x="640.60" y="153.40" font-size="7.25" text-anchor="middle" fill="#111" font-weight="normal"  >best baseline</text>
<text x="0" y="0" font-size="7.35" text-anchor="end" fill="#111" transform="translate(411.8,186.9) rotate(-30)">Binding (422)</text>
<text x="0" y="0" font-size="7.35" text-anchor="end" fill="#111" transform="translate(492.4,186.9) rotate(-30)">Binding (2048)</text>
<text x="0" y="0" font-size="7.35" text-anchor="end" fill="#111" transform="translate(573.1,186.9) rotate(-30)">Binding (4275)</text>
<text x="0" y="0" font-size="7.35" text-anchor="end" fill="#111" transform="translate(654.5,186.9) rotate(-30)">Expression (4275)</text>
<text x="-0.50" y="234.50" font-size="9.2" text-anchor="start" fill="#000" font-weight="bold"  >c</text>
<text x="42.00" y="288.70" font-size="8.75" text-anchor="middle" fill="#111" font-weight="normal"  >Wild-type m396</text>
<text x="40.70" y="297.90" font-size="8.75" text-anchor="middle" fill="#111" font-weight="normal"  >antibody</text>
<polyline points="7.90,304.25 8.24,304.27 8.58,304.33 8.92,304.43 9.25,304.56 9.59,304.73 9.93,304.93 10.27,305.17 10.61,305.43 10.95,305.72 11.29,306.02 11.62,306.35 11.96,306.69 12.30,307.04 12.64,307.40 12.98,307.75 13.32,308.11 13.65,308.46 13.99,308.79 14.33,309.11 14.67,309.41 15.01,309.69 15.35,309.94 15.69,310.16 16.02,310.35 16.36,310.50 16.70,310.62 17.04,310.70 17.38,310.74 17.72,310.75 18.05,310.71 18.39,310.63 18.73,310.52 19.07,310.37 19.41,310.19 19.75,309.97 20.09,309.72 20.42,309.45 20.76,309.15 21.10,308.84 21.44,308.50 21.78,308.16 22.12,307.81 22.46,307.45 22.79,307.09 23.13,306.74 23.47,306.40 23.81,306.07 24.15,305.76 24.49,305.47 24.82,305.20 25.16,304.96 25.50,304.76 25.84,304.58 26.18,304.44 26.52,304.34 26.86,304.28 27.19,304.25 27.53,304.26 27.87,304.32 28.21,304.41 28.55,304.54 28.89,304.70 29.23,304.90 29.56,305.13 29.90,305.39 30.24,305.67 30.58,305.98 30.92,306.30 31.26,306.64 31.59,306.99 31.93,307.35 32.27,307.70 32.61,308.06 32.95,308.41 33.29,308.74 33.63,309.07 33.96,309.37 34.30,309.65 34.64,309.90 34.98,310.13 35.32,310.32 35.66,310.48 36.00,310.61 36.33,310.69 36.67,310.74 37.01,310.75 37.35,310.72 37.69,310.65 38.03,310.54 38.36,310.40 38.70,310.22 39.04,310.00 39.38,309.76 39.72,309.49 40.06,309.20 40.40,308.88 40.73,308.55 41.07,308.21 41.41,307.86 41.75,307.50 42.09,307.14 42.43,306.79 42.77,306.45 43.10,306.12 43.44,305.80 43.78,305.51 44.12,305.24 44.46,305.00 44.80,304.78 45.13,304.60 45.47,304.46 45.81,304.35 46.15,304.28 46.49,304.25 46.83,304.26 47.17,304.31 47.50,304.39 47.84,304.52 48.18,304.68 48.52,304.87 48.86,305.10 49.20,305.35 49.54,305.63 49.87,305.93 50.21,306.26 50.55,306.59 50.89,306.94 51.23,307.30 51.57,307.65 51.90,308.01 52.24,308.36 52.58,308.70 52.92,309.02 53.26,309.33 53.60,309.61 53.94,309.87 54.27,310.10 54.61,310.30 54.95,310.46 55.29,310.59 55.63,310.68 55.97,310.74 56.31,310.75 56.64,310.72 56.98,310.66 57.32,310.56 57.66,310.42 58.00,310.24 58.34,310.04 58.67,309.80 59.01,309.53 59.35,309.24 59.69,308.93 60.03,308.60 60.37,308.26 60.71,307.91 61.04,307.55 61.38,307.19 61.72,306.84 62.06,306.50 62.40,306.16 62.74,305.85 63.08,305.55 63.41,305.28 63.75,305.03 64.09,304.81 64.43,304.63 64.77,304.48 65.11,304.37 65.44,304.29 65.78,304.25 66.12,304.26 66.46,304.30 66.80,304.38 67.14,304.50 67.48,304.65 67.81,304.84 68.15,305.06 68.49,305.31 68.83,305.59 69.17,305.89 69.51,306.21 69.85,306.54 70.18,306.89 70.52,307.25 70.86,307.60 71.20,307.96 71.54,308.31 71.88,308.65 72.21,308.98 72.55,309.28 72.89,309.57 73.23,309.83 73.57,310.07 73.91,310.27 74.25,310.44 74.58,310.57 74.92,310.67 75.26,310.73 75.60,310.75" fill="none" stroke="#a3202a" stroke-width="2.0" stroke-linecap="round"/>
<polyline points="7.90,312.65 8.24,312.67 8.58,312.73 8.92,312.83 9.25,312.96 9.59,313.13 9.93,313.33 10.27,313.57 10.61,313.83 10.95,314.12 11.29,314.42 11.62,314.75 11.96,315.09 12.30,315.44 12.64,315.80 12.98,316.15 13.32,316.51 13.65,316.86 13.99,317.19 14.33,317.51 14.67,317.81 15.01,318.09 15.35,318.34 15.69,318.56 16.02,318.75 16.36,318.90 16.70,319.02 17.04,319.10 17.38,319.14 17.72,319.15 18.05,319.11 18.39,319.03 18.73,318.92 19.07,318.77 19.41,318.59 19.75,318.37 20.09,318.12 20.42,317.85 20.76,317.55 21.10,317.24 21.44,316.90 21.78,316.56 22.12,316.21 22.46,315.85 22.79,315.49 23.13,315.14 23.47,314.80 23.81,314.47 24.15,314.16 24.49,313.87 24.82,313.60 25.16,313.36 25.50,313.16 25.84,312.98 26.18,312.84 26.52,312.74 26.86,312.68 27.19,312.65 27.53,312.66 27.87,312.72 28.21,312.81 28.55,312.94 28.89,313.10 29.23,313.30 29.56,313.53 29.90,313.79 30.24,314.07 30.58,314.38 30.92,314.70 31.26,315.04 31.59,315.39 31.93,315.75 32.27,316.10 32.61,316.46 32.95,316.81 33.29,317.14 33.63,317.47 33.96,317.77 34.30,318.05 34.64,318.30 34.98,318.53 35.32,318.72 35.66,318.88 36.00,319.01 36.33,319.09 36.67,319.14 37.01,319.15 37.35,319.12 37.69,319.05 38.03,318.94 38.36,318.80 38.70,318.62 39.04,318.40 39.38,318.16 39.72,317.89 40.06,317.60 40.40,317.28 40.73,316.95 41.07,316.61 41.41,316.26 41.75,315.90 42.09,315.54 42.43,315.19 42.77,314.85 43.10,314.52 43.44,314.20 43.78,313.91 44.12,313.64 44.46,313.40 44.80,313.18 45.13,313.00 45.47,312.86 45.81,312.75 46.15,312.68 46.49,312.65 46.83,312.66 47.17,312.71 47.50,312.79 47.84,312.92 48.18,313.08 48.52,313.27 48.86,313.50 49.20,313.75 49.54,314.03 49.87,314.33 50.21,314.66 50.55,314.99 50.89,315.34 51.23,315.70 51.57,316.05 51.90,316.41 52.24,316.76 52.58,317.10 52.92,317.42 53.26,317.73 53.60,318.01 53.94,318.27 54.27,318.50 54.61,318.70 54.95,318.86 55.29,318.99 55.63,319.08 55.97,319.14 56.31,319.15 56.64,319.12 56.98,319.06 57.32,318.96 57.66,318.82 58.00,318.64 58.34,318.44 58.67,318.20 59.01,317.93 59.35,317.64 59.69,317.33 60.03,317.00 60.37,316.66 60.71,316.31 61.04,315.95 61.38,315.59 61.72,315.24 62.06,314.90 62.40,314.56 62.74,314.25 63.08,313.95 63.41,313.68 63.75,313.43 64.09,313.21 64.43,313.03 64.77,312.88 65.11,312.77 65.44,312.69 65.78,312.65 66.12,312.66 66.46,312.70 66.80,312.78 67.14,312.90 67.48,313.05 67.81,313.24 68.15,313.46 68.49,313.71 68.83,313.99 69.17,314.29 69.51,314.61 69.85,314.94 70.18,315.29 70.52,315.65 70.86,316.00 71.20,316.36 71.54,316.71 71.88,317.05 72.21,317.38 72.55,317.68 72.89,317.97 73.23,318.23 73.57,318.47 73.91,318.67 74.25,318.84 74.58,318.97 74.92,319.07 75.26,319.13 75.60,319.15" fill="none" stroke="#5e3b96" stroke-width="2.0" stroke-linecap="round"/>
<line x1="82.00" y1="314.00" x2="96.30" y2="314.00" stroke="#111" stroke-width="1.9"/>
<polygon points="103.60,314.00 95.80,317.80 95.80,310.20" fill="#111"/>
<rect x="110.5" y="291.0" width="45.7" height="49.8" fill="none" stroke="#98aee0" stroke-width="1.6"/>
<rect x="113.30" y="294.70" width="8.8" height="36.1" fill="#f5bf8e" stroke="#1e1e1e" stroke-width="0.95"/>
<rect x="120.85" y="296.90" width="8.8" height="36.1" fill="#f5bf8e" stroke="#1e1e1e" stroke-width="0.95"/>
<rect x="128.40" y="299.10" width="8.8" height="36.1" fill="#f5bf8e" stroke="#1e1e1e" stroke-width="0.95"/>
<rect x="135.95" y="301.30" width="8.8" height="36.1" fill="#f5bf8e" stroke="#1e1e1e" stroke-width="0.95"/>
<rect x="143.50" y="303.50" width="8.8" height="36.1" fill="#f5bf8e" stroke="#1e1e1e" stroke-width="0.95"/>
<text x="42.20" y="348.90" font-size="8.85" text-anchor="middle" fill="#111" font-weight="normal"  >Mutant m396</text>
<text x="40.70" y="358.60" font-size="8.75" text-anchor="middle" fill="#111" font-weight="normal"  >antibody</text>
<polyline points="7.90,364.25 8.24,364.27 8.57,364.33 8.91,364.43 9.25,364.56 9.58,364.73 9.92,364.93 10.26,365.17 10.59,365.43 10.93,365.72 11.27,366.02 11.60,366.35 11.94,366.69 12.27,367.04 12.61,367.40 12.95,367.75 13.28,368.11 13.62,368.46 13.96,368.79 14.29,369.11 14.63,369.41 14.97,369.69 15.30,369.94 15.64,370.16 15.98,370.35 16.31,370.50 16.65,370.62 16.99,370.70 17.32,370.74 17.66,370.75 17.99,370.71 18.33,370.63 18.67,370.52 19.00,370.37 19.34,370.19 19.68,369.97 20.01,369.72 20.35,369.45 20.69,369.15 21.02,368.84 21.36,368.50 21.70,368.16 22.03,367.81 22.37,367.45 22.71,367.09 23.04,366.74 23.38,366.40 23.72,366.07 24.05,365.76 24.39,365.47 24.73,365.20 25.06,364.96 25.40,364.76 25.73,364.58 26.07,364.44 26.41,364.34 26.74,364.28 27.08,364.25 27.42,364.26 27.75,364.32 28.09,364.41 28.43,364.54 28.76,364.70 29.10,364.90 29.44,365.13 29.77,365.39 30.11,365.67 30.45,365.98 30.78,366.30 31.12,366.64 31.45,366.99 31.79,367.35 32.13,367.70 32.46,368.06 32.80,368.41 33.14,368.74 33.47,369.07 33.81,369.37 34.15,369.65 34.48,369.90 34.82,370.13 35.16,370.32 35.49,370.48 35.83,370.61 36.17,370.69 36.50,370.74 36.84,370.75 37.18,370.72 37.51,370.65 37.85,370.54 38.19,370.40 38.52,370.22 38.86,370.00 39.19,369.76 39.53,369.49 39.87,369.20 40.20,368.88 40.54,368.55 40.88,368.21 41.21,367.86 41.55,367.50 41.89,367.14 42.22,366.79 42.56,366.45 42.90,366.12 43.23,365.80 43.57,365.51 43.91,365.24 44.24,365.00 44.58,364.78 44.91,364.60 45.25,364.46 45.59,364.35 45.92,364.28 46.26,364.25 46.60,364.26 46.93,364.31 47.27,364.39 47.61,364.52 47.94,364.68 48.28,364.87 48.62,365.10 48.95,365.35 49.29,365.63 49.63,365.93 49.96,366.26 50.30,366.59 50.64,366.94 50.97,367.30 51.31,367.65 51.64,368.01 51.98,368.36 52.32,368.70 52.65,369.02 52.99,369.33 53.33,369.61 53.66,369.87 54.00,370.10 54.34,370.30 54.67,370.46 55.01,370.59 55.35,370.68 55.68,370.74 56.02,370.75 56.36,370.72 56.69,370.66 57.03,370.56 57.37,370.42 57.70,370.24 58.04,370.04 58.37,369.80 58.71,369.53 59.05,369.24 59.38,368.93 59.72,368.60 60.06,368.26 60.39,367.91 60.73,367.55 61.07,367.19 61.40,366.84 61.74,366.50 62.08,366.16 62.41,365.85 62.75,365.55 63.09,365.28 63.42,365.03 63.76,364.81 64.10,364.63 64.43,364.48 64.77,364.37 65.11,364.29 65.44,364.25 65.78,364.26 66.11,364.30 66.45,364.38 66.79,364.50 67.12,364.65 67.46,364.84 67.80,365.06 68.13,365.31 68.47,365.59 68.81,365.89 69.14,366.21 69.48,366.54 69.82,366.89 70.15,367.25 70.49,367.60 70.83,367.96 71.16,368.31 71.50,368.65 71.83,368.98 72.17,369.28 72.51,369.57 72.84,369.83 73.18,370.07 73.52,370.27 73.85,370.44 74.19,370.57 74.53,370.67 74.86,370.73 75.20,370.75" fill="none" stroke="#7f7f7f" stroke-width="2.0" stroke-linecap="round"/>
<polyline points="7.90,373.05 8.24,373.07 8.57,373.13 8.91,373.23 9.25,373.36 9.58,373.53 9.92,373.73 10.26,373.97 10.59,374.23 10.93,374.52 11.27,374.82 11.60,375.15 11.94,375.49 12.27,375.84 12.61,376.20 12.95,376.55 13.28,376.91 13.62,377.26 13.96,377.59 14.29,377.91 14.63,378.21 14.97,378.49 15.30,378.74 15.64,378.96 15.98,379.15 16.31,379.30 16.65,379.42 16.99,379.50 17.32,379.54 17.66,379.55 17.99,379.51 18.33,379.43 18.67,379.32 19.00,379.17 19.34,378.99 19.68,378.77 20.01,378.52 20.35,378.25 20.69,377.95 21.02,377.64 21.36,377.30 21.70,376.96 22.03,376.61 22.37,376.25 22.71,375.89 23.04,375.54 23.38,375.20 23.72,374.87 24.05,374.56 24.39,374.27 24.73,374.00 25.06,373.76 25.40,373.56 25.73,373.38 26.07,373.24 26.41,373.14 26.74,373.08 27.08,373.05 27.42,373.06 27.75,373.12 28.09,373.21 28.43,373.34 28.76,373.50 29.10,373.70 29.44,373.93 29.77,374.19 30.11,374.47 30.45,374.78 30.78,375.10 31.12,375.44 31.45,375.79 31.79,376.15 32.13,376.50 32.46,376.86 32.80,377.21 33.14,377.54 33.47,377.87 33.81,378.17 34.15,378.45 34.48,378.70 34.82,378.93 35.16,379.12 35.49,379.28 35.83,379.41 36.17,379.49 36.50,379.54 36.84,379.55 37.18,379.52 37.51,379.45 37.85,379.34 38.19,379.20 38.52,379.02 38.86,378.80 39.19,378.56 39.53,378.29 39.87,378.00 40.20,377.68 40.54,377.35 40.88,377.01 41.21,376.66 41.55,376.30 41.89,375.94 42.22,375.59 42.56,375.25 42.90,374.92 43.23,374.60 43.57,374.31 43.91,374.04 44.24,373.80 44.58,373.58 44.91,373.40 45.25,373.26 45.59,373.15 45.92,373.08 46.26,373.05 46.60,373.06 46.93,373.11 47.27,373.19 47.61,373.32 47.94,373.48 48.28,373.67 48.62,373.90 48.95,374.15 49.29,374.43 49.63,374.73 49.96,375.06 50.30,375.39 50.64,375.74 50.97,376.10 51.31,376.45 51.64,376.81 51.98,377.16 52.32,377.50 52.65,377.82 52.99,378.13 53.33,378.41 53.66,378.67 54.00,378.90 54.34,379.10 54.67,379.26 55.01,379.39 55.35,379.48 55.68,379.54 56.02,379.55 56.36,379.52 56.69,379.46 57.03,379.36 57.37,379.22 57.70,379.04 58.04,378.84 58.37,378.60 58.71,378.33 59.05,378.04 59.38,377.73 59.72,377.40 60.06,377.06 60.39,376.71 60.73,376.35 61.07,375.99 61.40,375.64 61.74,375.30 62.08,374.96 62.41,374.65 62.75,374.35 63.09,374.08 63.42,373.83 63.76,373.61 64.10,373.43 64.43,373.28 64.77,373.17 65.11,373.09 65.44,373.05 65.78,373.06 66.11,373.10 66.45,373.18 66.79,373.30 67.12,373.45 67.46,373.64 67.80,373.86 68.13,374.11 68.47,374.39 68.81,374.69 69.14,375.01 69.48,375.34 69.82,375.69 70.15,376.05 70.49,376.40 70.83,376.76 71.16,377.11 71.50,377.45 71.83,377.78 72.17,378.08 72.51,378.37 72.84,378.63 73.18,378.87 73.52,379.07 73.85,379.24 74.19,379.37 74.53,379.47 74.86,379.53 75.20,379.55" fill="none" stroke="#111" stroke-width="2.0" stroke-linecap="round"/>
<line x1="82.00" y1="372.80" x2="96.30" y2="372.80" stroke="#111" stroke-width="1.9"/>
<polygon points="103.60,372.80 95.80,376.60 95.80,369.00" fill="#111"/>
<rect x="110.5" y="345.8" width="45.7" height="50.3" fill="none" stroke="#98aee0" stroke-width="1.6"/>
<rect x="113.30" y="349.50" width="8.8" height="36.1" fill="#f5bf8e" stroke="#1e1e1e" stroke-width="0.95"/>
<rect x="120.85" y="351.70" width="8.8" height="36.1" fill="#f5bf8e" stroke="#1e1e1e" stroke-width="0.95"/>
<rect x="128.40" y="353.90" width="8.8" height="36.1" fill="#f5bf8e" stroke="#1e1e1e" stroke-width="0.95"/>
<rect x="135.95" y="356.10" width="8.8" height="36.1" fill="#f5bf8e" stroke="#1e1e1e" stroke-width="0.95"/>
<rect x="143.50" y="358.30" width="8.8" height="36.1" fill="#f5bf8e" stroke="#1e1e1e" stroke-width="0.95"/>
<line x1="160.00" y1="321.00" x2="173.52" y2="329.27" stroke="#111" stroke-width="1.9"/>
<polygon points="180.60,333.60 170.85,332.68 175.34,325.34" fill="#111"/>
<line x1="158.00" y1="371.20" x2="173.14" y2="363.83" stroke="#111" stroke-width="1.9"/>
<polygon points="180.60,360.20 174.57,367.92 170.81,360.18" fill="#111"/>
<polygon points="188.3,326.0 211.2,338.7 211.2,354.6 188.3,367.3" fill="#dbe8f8" stroke="#151515" stroke-width="1.6" stroke-linejoin="miter"/>
<text x="0" y="0" font-size="8.3" text-anchor="middle" fill="#111" text-rendering="geometricPrecision" style="stroke-width:0" transform="translate(196.9,346.4) rotate(90) translate(0,3.0)">LR</text>
<line x1="215.10" y1="346.80" x2="230.30" y2="346.80" stroke="#111" stroke-width="1.9"/>
<polygon points="238.00,346.80 229.80,350.70 229.80,342.90" fill="#111"/>
<line x1="276.10" y1="347.30" x2="279.50" y2="347.30" stroke="#2f5fc6" stroke-width="1.0"/>
<polygon points="278.60,347.30 282.20,349.30 282.20,345.30" fill="#2f5fc6" stroke="#2f5fc6" stroke-width="0.7" stroke-linejoin="round"/>
<line x1="274.39" y1="353.70" x2="277.33" y2="355.40" stroke="#2f5fc6" stroke-width="1.0"/>
<polygon points="276.55,354.95 278.67,358.48 280.67,355.02" fill="#2f5fc6" stroke="#2f5fc6" stroke-width="0.7" stroke-linejoin="round"/>
<line x1="269.70" y1="358.39" x2="271.40" y2="361.33" stroke="#2f5fc6" stroke-width="1.0"/>
<polygon points="270.95,360.55 271.02,364.67 274.48,362.67" fill="#2f5fc6" stroke="#2f5fc6" stroke-width="0.7" stroke-linejoin="round"/>
<line x1="263.30" y1="360.10" x2="263.30" y2="363.50" stroke="#2f5fc6" stroke-width="1.0"/>
<polygon points="263.30,362.60 261.30,366.20 265.30,366.20" fill="#2f5fc6" stroke="#2f5fc6" stroke-width="0.7" stroke-linejoin="round"/>
<line x1="256.90" y1="358.39" x2="255.20" y2="361.33" stroke="#2f5fc6" stroke-width="1.0"/>
<polygon points="255.65,360.55 252.12,362.67 255.58,364.67" fill="#2f5fc6" stroke="#2f5fc6" stroke-width="0.7" stroke-linejoin="round"/>
<line x1="252.21" y1="353.70" x2="249.27" y2="355.40" stroke="#2f5fc6" stroke-width="1.0"/>
<polygon points="250.05,354.95 245.93,355.02 247.93,358.48" fill="#2f5fc6" stroke="#2f5fc6" stroke-width="0.7" stroke-linejoin="round"/>
<line x1="250.50" y1="347.30" x2="247.10" y2="347.30" stroke="#2f5fc6" stroke-width="1.0"/>
<polygon points="248.00,347.30 244.40,345.30 244.40,349.30" fill="#2f5fc6" stroke="#2f5fc6" stroke-width="0.7" stroke-linejoin="round"/>
<line x1="252.21" y1="340.90" x2="249.27" y2="339.20" stroke="#2f5fc6" stroke-width="1.0"/>
<polygon points="250.05,339.65 247.93,336.12 245.93,339.58" fill="#2f5fc6" stroke="#2f5fc6" stroke-width="0.7" stroke-linejoin="round"/>
<line x1="256.90" y1="336.21" x2="255.20" y2="333.27" stroke="#2f5fc6" stroke-width="1.0"/>
<polygon points="255.65,334.05 255.58,329.93 252.12,331.93" fill="#2f5fc6" stroke="#2f5fc6" stroke-width="0.7" stroke-linejoin="round"/>
<line x1="263.30" y1="334.50" x2="263.30" y2="331.10" stroke="#2f5fc6" stroke-width="1.0"/>
<polygon points="263.30,332.00 265.30,328.40 261.30,328.40" fill="#2f5fc6" stroke="#2f5fc6" stroke-width="0.7" stroke-linejoin="round"/>
<line x1="269.70" y1="336.21" x2="271.40" y2="333.27" stroke="#2f5fc6" stroke-width="1.0"/>
<polygon points="270.95,334.05 274.48,331.93 271.02,329.93" fill="#2f5fc6" stroke="#2f5fc6" stroke-width="0.7" stroke-linejoin="round"/>
<line x1="274.39" y1="340.90" x2="277.33" y2="339.20" stroke="#2f5fc6" stroke-width="1.0"/>
<polygon points="276.55,339.65 280.67,339.58 278.67,336.12" fill="#2f5fc6" stroke="#2f5fc6" stroke-width="0.7" stroke-linejoin="round"/>
<circle cx="263.3" cy="347.3" r="13.0" fill="#e9eff9" stroke="#3f64c4" stroke-width="1.1"/>
<circle cx="263.3" cy="347.3" r="13.0" fill="none" stroke="#b8404e" stroke-width="1.1" stroke-dasharray="1.5 1.9"/>
<text x="264.00" y="344.90" font-size="7.45" text-anchor="middle" fill="#111" font-weight="normal"  >SARS-</text>
<text x="263.30" y="353.20" font-size="7.35" text-anchor="middle" fill="#111" font-weight="normal"  >CoV-2</text>
<g transform="translate(246.30,322.60) rotate(180)"><rect x="-2.15" y="1.0" width="1.85" height="7.8" rx="0.3" fill="#c8323a"/><rect x="0.3" y="1.0" width="1.85" height="7.8" rx="0.3" fill="#c8323a"/><path d="M-1.2,-0.6 L-1.2,1.2 M1.2,-0.6 L1.2,1.2" stroke="#aaa" stroke-width="0.5"/><g transform="translate(-1.4,-0.4) rotate(-36)"><rect x="-0.2" y="-7.4" width="1.9" height="3.8" fill="#e2474e"/><rect x="-0.2" y="-3.7" width="1.9" height="3.7" fill="#c8323a"/><rect x="-2.1" y="-6.8" width="1.9" height="3.4" fill="#b05cb0"/><rect x="-2.1" y="-3.5" width="1.9" height="3.2" fill="#8e3a8e"/></g><g transform="translate(1.4,-0.4) rotate(36)"><rect x="-1.7" y="-7.4" width="1.9" height="3.8" fill="#e2474e"/><rect x="-1.7" y="-3.7" width="1.9" height="3.7" fill="#c8323a"/><rect x="0.2" y="-6.8" width="1.9" height="3.4" fill="#b05cb0"/><rect x="0.2" y="-3.5" width="1.9" height="3.2" fill="#8e3a8e"/></g></g>
<polygon points="260.34,328.00 259.12,328.83 259.88,330.11 258.28,330.32 258.38,331.93 256.56,330.92 255.88,332.20 254.80,331.64 253.51,332.16 253.21,330.67 250.96,331.38 251.87,329.59 249.83,329.19 251.42,328.00 250.02,326.85 252.09,326.52 251.23,324.83 252.92,324.96 253.41,323.62 254.81,324.42 255.96,323.22 256.56,325.08 258.46,323.97 258.27,325.68 259.82,325.91 258.72,327.26" fill="#dfbd38" stroke="#c9a030" stroke-width="0.6" stroke-linejoin="round"/>
<ellipse cx="255.30" cy="328.00" rx="2.42" ry="1.64" fill="#f7f07a"/>
<g transform="translate(279.50,370.60) rotate(0)"><rect x="-2.15" y="1.0" width="1.85" height="7.8" rx="0.3" fill="#c8323a"/><rect x="0.3" y="1.0" width="1.85" height="7.8" rx="0.3" fill="#c8323a"/><path d="M-1.2,-0.6 L-1.2,1.2 M1.2,-0.6 L1.2,1.2" stroke="#aaa" stroke-width="0.5"/><g transform="translate(-1.4,-0.4) rotate(-36)"><rect x="-0.2" y="-7.4" width="1.9" height="3.8" fill="#e2474e"/><rect x="-0.2" y="-3.7" width="1.9" height="3.7" fill="#c8323a"/><rect x="-2.1" y="-6.8" width="1.9" height="3.4" fill="#b05cb0"/><rect x="-2.1" y="-3.5" width="1.9" height="3.2" fill="#8e3a8e"/></g><g transform="translate(1.4,-0.4) rotate(36)"><rect x="-1.7" y="-7.4" width="1.9" height="3.8" fill="#e2474e"/><rect x="-1.7" y="-3.7" width="1.9" height="3.7" fill="#c8323a"/><rect x="0.2" y="-6.8" width="1.9" height="3.4" fill="#b05cb0"/><rect x="0.2" y="-3.5" width="1.9" height="3.2" fill="#8e3a8e"/></g></g>
<g transform="translate(287.30,331.20) rotate(-92) scale(-1,1)"><rect x="-2.15" y="1.0" width="1.85" height="8.2" rx="0.3" fill="#2a2a2a"/><rect x="0.3" y="1.0" width="1.85" height="8.2" rx="0.3" fill="#2a2a2a"/><path d="M-1.2,-0.6 L-1.2,1.2 M1.2,-0.6 L1.2,1.2" stroke="#aaa" stroke-width="0.5"/><g transform="translate(-1.4,-0.4) rotate(-46)"><rect x="-0.2" y="-7.4" width="1.9" height="3.8" fill="#2a2a2a"/><rect x="-0.2" y="-3.7" width="1.9" height="3.7" fill="#2a2a2a"/><rect x="-2.1" y="-6.8" width="1.9" height="3.4" fill="#2a2a2a"/><rect x="-2.1" y="-3.5" width="1.9" height="3.2" fill="#2a2a2a"/></g><g transform="translate(1.4,-0.4) rotate(46)"><rect x="-1.7" y="-3.5" width="1.9" height="3.5" fill="#2a2a2a"/><rect x="0.2" y="-3.1" width="1.9" height="2.9" fill="#2a2a2a"/></g></g>
<polygon points="285.42,336.00 283.92,336.72 285.16,338.11 283.11,337.96 283.46,339.65 281.87,338.96 281.15,339.98 280.15,339.24 278.99,339.73 278.53,338.64 277.18,338.67 277.61,337.38 275.82,337.04 276.64,336.00 276.11,335.03 277.52,334.58 276.76,333.01 278.29,333.06 278.80,331.82 280.16,332.84 281.26,331.22 281.78,333.25 283.64,332.12 283.24,333.94 284.71,334.10 283.90,335.29" fill="#dfbd38" stroke="#c9a030" stroke-width="0.6" stroke-linejoin="round"/>
<ellipse cx="280.60" cy="336.00" rx="2.29" ry="1.55" fill="#f7f07a"/>
<path d="M254.8,316.0 Q266.5,313.2 277.6,321.6" fill="none" stroke="#111" stroke-width="1.0"/>
<polygon points="252.4,316.4 257.0,313.8 257.0,318.6" fill="#111"/>
<polygon points="279.6,323.2 274.6,322.6 277.2,318.6" fill="#111"/>
<text x="0" y="0" font-size="9.6" fill="#111" letter-spacing="0.1" transform="translate(262.0,312.8) rotate(20)">ΔΔ<tspan font-style="italic">G</tspan></text>
<text x="330.80" y="234.50" font-size="9.2" text-anchor="start" fill="#000" font-weight="bold"  >d</text>
<rect x="415.9" y="247.2" width="10.1" height="5.3" fill="#3f7aa0"/>
<text x="427.50" y="252.60" font-size="7.42" text-anchor="start" fill="#111" font-weight="normal"  >AbMap-P-MLP</text>
<rect x="415.9" y="258.2" width="10.1" height="5.3" fill="#85a8d8"/>
<text x="427.50" y="263.60" font-size="7.42" text-anchor="start" fill="#111" font-weight="normal"  >AbMap-E-MLP</text>
<rect x="480.9" y="247.2" width="10.1" height="5.3" fill="#e46a4c"/>
<text x="492.50" y="252.60" font-size="7.42" text-anchor="start" fill="#111" font-weight="normal"  >AbMap-P-Ridge</text>
<rect x="480.9" y="258.2" width="10.1" height="5.3" fill="#f4a060"/>
<text x="492.50" y="263.60" font-size="7.42" text-anchor="start" fill="#111" font-weight="normal"  >AbMap-E-Ridge</text>
<rect x="548.9" y="252.8" width="10.1" height="5.3" fill="#1a7a32"/>
<text x="560.00" y="258.10" font-size="7.42" text-anchor="start" fill="#111" font-weight="normal"  >MINT</text>
<rect x="374.5" y="271.10" width="262.83" height="8.6" fill="#4e7896"/>
<rect x="374.5" y="279.70" width="262.83" height="8.6" fill="#8aa5c8"/>
<rect x="374.5" y="288.30" width="229.17" height="8.6" fill="#d87a66"/>
<rect x="374.5" y="296.90" width="237.58" height="8.6" fill="#e2a572"/>
<rect x="374.5" y="305.90" width="265.35" height="8.2" fill="#24703c"/>
<rect x="374.5" y="325.50" width="237.58" height="8.6" fill="#4e7896"/>
<rect x="374.5" y="334.10" width="231.97" height="8.6" fill="#8aa5c8"/>
<rect x="374.5" y="342.70" width="209.53" height="8.6" fill="#d87a66"/>
<rect x="374.5" y="351.30" width="217.95" height="8.6" fill="#e2a572"/>
<rect x="374.5" y="360.30" width="254.41" height="8.2" fill="#24703c"/>
<rect x="374.5" y="380.00" width="167.46" height="8.6" fill="#4e7896"/>
<rect x="374.5" y="388.60" width="181.20" height="8.6" fill="#8aa5c8"/>
<rect x="374.5" y="397.20" width="175.87" height="8.6" fill="#d87a66"/>
<rect x="374.5" y="405.80" width="198.31" height="8.6" fill="#e2a572"/>
<rect x="374.5" y="414.80" width="226.08" height="8.2" fill="#24703c"/>
<line x1="374.5" y1="265.2" x2="374.5" y2="428.4" stroke="#8a8a8a" stroke-width="0.9"/>
<line x1="374.0" y1="428.4" x2="653.7" y2="428.4" stroke="#8a8a8a" stroke-width="1.0"/>
<line x1="374.50" y1="428.4" x2="374.50" y2="426.6" stroke="#8a8a8a" stroke-width="0.8"/>
<text x="374.50" y="436.90" font-size="7.3" text-anchor="middle" fill="#111" font-weight="normal"  >0.0</text>
<line x1="430.60" y1="428.4" x2="430.60" y2="426.6" stroke="#8a8a8a" stroke-width="0.8"/>
<text x="430.60" y="436.90" font-size="7.3" text-anchor="middle" fill="#111" font-weight="normal"  >0.2</text>
<line x1="486.70" y1="428.4" x2="486.70" y2="426.6" stroke="#8a8a8a" stroke-width="0.8"/>
<text x="486.70" y="436.90" font-size="7.3" text-anchor="middle" fill="#111" font-weight="normal"  >0.4</text>
<line x1="542.80" y1="428.4" x2="542.80" y2="426.6" stroke="#8a8a8a" stroke-width="0.8"/>
<text x="542.80" y="436.90" font-size="7.3" text-anchor="middle" fill="#111" font-weight="normal"  >0.6</text>
<line x1="598.90" y1="428.4" x2="598.90" y2="426.6" stroke="#8a8a8a" stroke-width="0.8"/>
<text x="598.90" y="436.90" font-size="7.3" text-anchor="middle" fill="#111" font-weight="normal"  >0.8</text>
<text x="491.30" y="448.00" font-size="7.3" text-anchor="middle" fill="#111" font-weight="normal"  >Spearman rank</text>
<text x="371.60" y="295.30" font-size="7.3" text-anchor="end" fill="#111" font-weight="normal"  >Train 20%</text>
<text x="371.60" y="349.50" font-size="7.3" text-anchor="end" fill="#111" font-weight="normal"  >Train 5%</text>
<text x="371.60" y="404.00" font-size="7.3" text-anchor="end" fill="#111" font-weight="normal"  >Train 0.5%</text>
<text x="612.30" y="392.30" font-size="7.25" text-anchor="middle" fill="#111" font-weight="normal"  >+14% over</text>
<text x="612.30" y="400.30" font-size="7.25" text-anchor="middle" fill="#111" font-weight="normal"  >best baseline</text>
</svg></body></html>
